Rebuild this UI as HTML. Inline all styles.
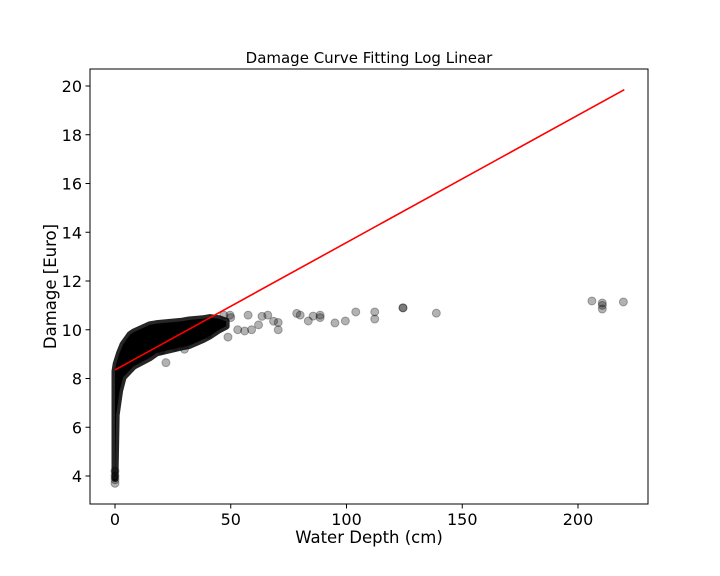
<!DOCTYPE html>
<html><head><meta charset="utf-8"><style>
html,body{margin:0;padding:0;background:#fff;}
svg{display:block;font-family:"DejaVu Sans","Liberation Sans",sans-serif;}
</style></head><body>
<svg id="chart" width="720" height="576">
<rect width="720" height="576" fill="#fff"/>
<text x="369" y="63" font-size="15" text-anchor="middle" fill="#000">Damage Curve Fitting Log Linear</text>
<g id="plot"></g>
<rect x="90" y="69" width="558" height="435" fill="none" stroke="#000" stroke-width="1"/>
<g id="xticks"></g>
<g id="yticks"></g>
<text x="369" y="543" font-size="16.5" text-anchor="middle">Water Depth (cm)</text>
<text transform="translate(56,286.5) rotate(-90)" font-size="16.5" text-anchor="middle">Damage [Euro]</text>
</svg>
<script>
const xTicks=[0,50,100,150,200];
const yTicks=[4,6,8,10,12,14,16,18,20];
// dense band envelope
const envDepth=[0,0.5,2,3.5,6.5,8,15,18,29,32,38,41,45,48];
const envUpper=[8.3,8.6,9.05,9.4,9.8,9.9,10.2,10.25,10.35,10.4,10.45,10.5,10.45,10.35];
const envLower=[3.9,6.5,7.5,8.05,8.35,8.5,8.85,9.05,9.3,9.35,9.6,9.75,10.0,10.15];
// sparse points
const ptDepth=[0,0,0,0,22,20,26,30,32,40,43,47,48.8,49.7,50,53,56,57.5,59,62,63.5,66,68.5,70.5,70.5,78.5,80,83.5,85.6,88.6,88.6,95,99.5,104,112.2,112.2,124.4,124.4,138.8,206,210.5,210.5,210.5,219.6];
const ptDamage=[3.7,3.85,4.0,4.2,8.65,9.15,9.3,9.2,9.6,9.8,10.15,10.6,9.7,10.6,10.5,10.0,9.95,10.6,10.0,10.2,10.55,10.6,10.35,10.3,10.0,10.67,10.6,10.36,10.56,10.6,10.5,10.28,10.36,10.73,10.73,10.44,10.9,10.9,10.68,11.18,11.1,11.0,10.85,11.14];
// fitted line
const fitDepth=[0,220];
const fitDamage=[8.35,19.85];

const sx=d=>115+d*(578-115)/200;
const sy=v=>476-(v-4)*(476-86)/16;
const NS='http://www.w3.org/2000/svg';
const plot=document.getElementById('plot');
function mk(t,a,p){const e=document.createElementNS(NS,t);for(const k in a)e.setAttribute(k,a[k]);p.appendChild(e);return e;}

let pts=[];
envDepth.forEach((d,i)=>pts.push(sx(d)+','+sy(envUpper[i])));
for(let i=envDepth.length-1;i>=0;i--)pts.push(sx(envDepth[i])+','+sy(envLower[i]));
const band=mk('polygon',{points:pts.join(' '),fill:'#000',stroke:'#000','stroke-width':7,'stroke-linejoin':'round','stroke-opacity':0.85},plot);



ptDepth.forEach((d,i)=>{
 const c=mk('circle',{cx:sx(d),cy:sy(ptDamage[i]),r:4,fill:'#000','fill-opacity':0.3,stroke:'#000','stroke-opacity':0.3,'stroke-width':1},plot);
 
 
});

const ln=mk('line',{x1:sx(fitDepth[0]),y1:sy(fitDamage[0]),x2:sx(fitDepth[1]),y2:sy(fitDamage[1]),stroke:'#f00','stroke-width':1.6},plot);



const xg=document.getElementById('xticks');
xTicks.forEach(t=>{
 const l=mk('line',{x1:sx(t),x2:sx(t),y1:504,y2:508.5,stroke:'#000'},xg);
 
 
 const tx=mk('text',{x:sx(t),y:525,'font-size':16,'text-anchor':'middle'},xg);
 tx.textContent=t;
 
 
});
const yg=document.getElementById('yticks');
yTicks.forEach(t=>{
 const l=mk('line',{x1:85.5,x2:90,y1:sy(t),y2:sy(t),stroke:'#000'},yg);
 
 
 const tx=mk('text',{x:82,y:sy(t)+6,'font-size':16,'text-anchor':'end'},yg);
 tx.textContent=t;
 
 
});
</script>
</body></html>
